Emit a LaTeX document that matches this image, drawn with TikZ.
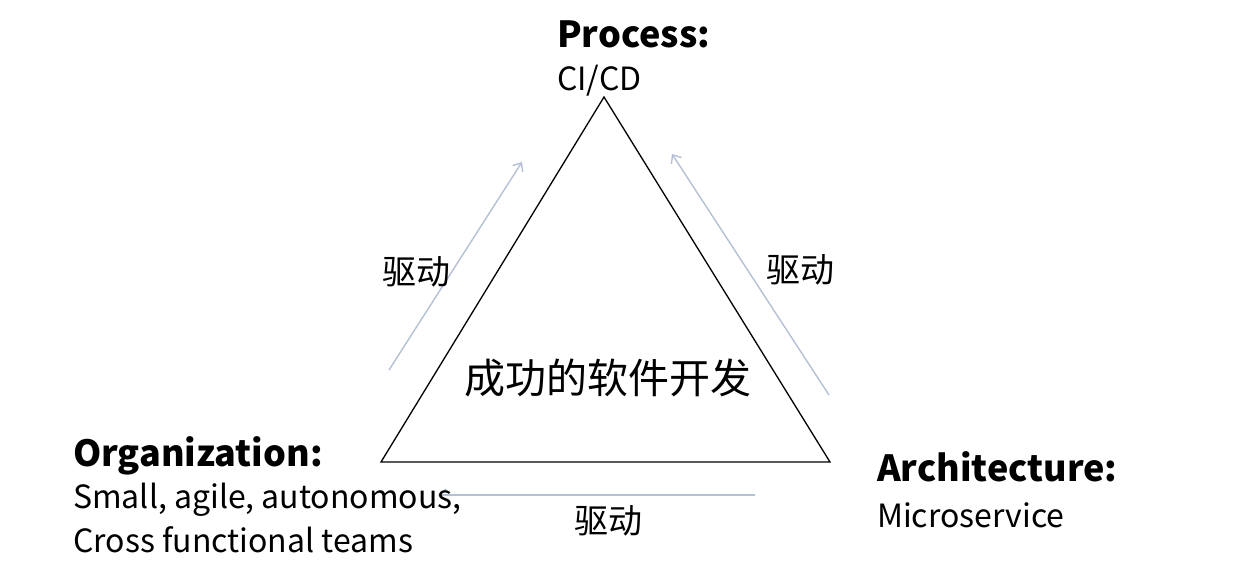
\documentclass[tikz,border=0pt]{standalone}
\usepackage{fontspec}
\setmainfont{Noto Sans CJK SC}
\usetikzlibrary{arrows.meta}
\begin{document}
\begin{tikzpicture}[x=1pt,y=-1pt,
  tri/.style={draw=black,line width=1.3pt},
  drive/.style={draw={rgb,255:red,180;green,192;blue,212},line width=1.4pt,-{Straight Barb[length=7pt,width=12pt]}},
  title/.style={font=\fontsize{36}{40}\selectfont\bfseries,anchor=base west,inner sep=0},
  sub/.style={font=\fontsize{32}{44}\selectfont,anchor=base west,inner sep=0},
  lbl/.style={font=\fontsize{34}{36}\selectfont,inner sep=0}]
\useasboundingbox (0,0) rectangle (1247,563);
\coordinate (T) at (604,97);
\coordinate (L) at (381,462);
\coordinate (R) at (830,462);
\draw[tri] (T) -- (L) -- (R) -- cycle;
\coordinate (a1) at (389,370); \coordinate (a2) at (522,162);
\coordinate (b1) at (829,395); \coordinate (b2) at (672,154);
\coordinate (c1) at (755,495); \coordinate (c2) at (438,495);
\draw[drive] (a1) -- (a2);
\draw[drive] (b1) -- (b2);
\draw[drive] (c1) -- (c2);
\node[title] (p) at (557,47) {Process:};
\node[sub] (pc) at (557,90) {CI/CD};
\node[title] (o) at (73,466) {Organization:};
\node[sub] (oc1) at (73,508) {Small, agile, autonomous,};
\node[sub] (oc2) at (73,552) {Cross functional teams};
\node[title] (ar) at (877,481) {Architecture:};
\node[sub] (arc) at (877,527) {Microservice};
\node[lbl] (d1) at (416,272) {驱动};
\node[lbl] (d2) at (800,270) {驱动};
\node[lbl] (d3) at (608,521) {驱动};
\node[font=\fontsize{41}{44}\selectfont,inner sep=0] (c) at (608,378) {成功的软件开发};
\end{tikzpicture}
\end{document}
